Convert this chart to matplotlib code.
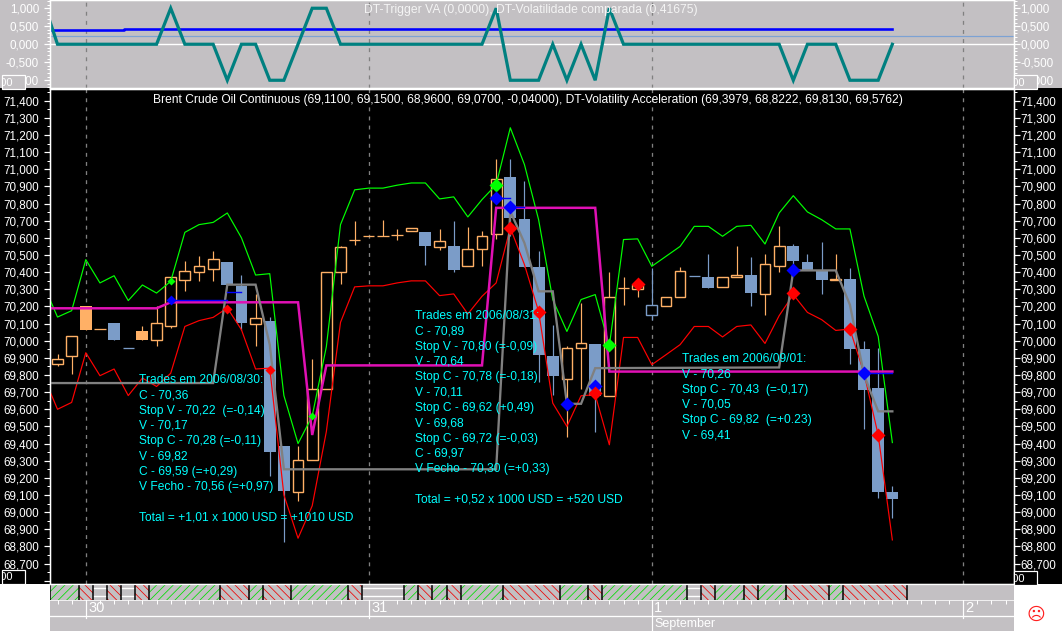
import matplotlib
matplotlib.use('Agg')
import matplotlib.pyplot as plt
from matplotlib.patches import Rectangle
from matplotlib.ticker import FuncFormatter, MultipleLocator

plt.rcParams['font.family'] = ['Liberation Sans', 'DejaVu Sans']
plt.rcParams['hatch.linewidth'] = 0.55

# Candles: box top, box bottom, high, low, kind
# u = hollow orange, f = filled orange, d = filled blue, o = hollow blue
box_top = [69.893, 70.027, 70.204, 70.068, 70.105, 69.957, 70.058, 70.103, 70.372, 70.407,
           70.436, 70.477, 70.461, 70.321, 70.134, 70.115, 69.387, 69.304, 69.718, 70.400,
           70.547, 70.590, 70.611, 70.611, 70.619, 70.658, 70.636, 70.582, 70.555, 70.535,
           70.611, 70.944, 70.952, 70.712, 70.427, 69.912, 69.957, 69.987, 69.982, 70.257,
           70.308, 70.323, 70.208, 70.255, 70.405, 70.378, 70.374, 70.372, 70.384, 70.385,
           70.448, 70.553, 70.555, 70.461, 70.410, 70.362, 70.362, 69.953, 69.726, 69.118]
box_bot = [69.864, 69.908, 70.060, 70.068, 70.002, 69.957, 70.002, 70.002, 70.083, 70.352,
           70.399, 70.416, 70.327, 70.105, 70.100, 69.348, 69.126, 69.120, 69.304, 69.718,
           70.400, 70.590, 70.611, 70.611, 70.619, 70.638, 70.550, 70.545, 70.415, 70.434,
           70.533, 70.620, 70.714, 70.428, 69.914, 69.796, 69.776, 69.955, 69.675, 69.675,
           70.308, 70.300, 70.148, 70.204, 70.255, 70.378, 70.305, 70.311, 70.370, 70.276,
           70.270, 70.434, 70.463, 70.415, 70.356, 70.354, 69.953, 69.714, 69.120, 69.078]
highs = [69.924, 70.027, 70.204, 70.068, 70.105, 69.957, 70.088, 70.200, 70.372, 70.467,
         70.492, 70.525, 70.461, 70.385, 70.274, 70.138, 69.387, 69.387, 69.895, 70.400,
         70.555, 70.700, 70.611, 70.706, 70.654, 70.658, 70.636, 70.654, 70.700, 70.665,
         70.640, 71.057, 71.062, 70.934, 70.525, 70.093, 69.970, 70.220, 69.982, 70.400,
         70.374, 70.323, 70.424, 70.255, 70.432, 70.378, 70.508, 70.372, 70.555, 70.490,
         70.508, 70.671, 70.565, 70.508, 70.578, 70.508, 70.426, 70.000, 69.960, 69.155]
lows = [69.850, 69.807, 70.060, 70.068, 70.002, 69.957, 70.002, 69.967, 70.077, 70.288,
        70.346, 70.346, 70.327, 70.060, 69.970, 69.212, 68.828, 69.066, 69.304, 69.718,
        70.333, 70.556, 70.611, 70.611, 70.585, 70.638, 70.444, 70.530, 70.400, 70.434,
        70.437, 70.595, 70.610, 70.428, 69.757, 69.685, 69.438, 69.718, 69.470, 69.675,
        70.210, 70.253, 70.120, 70.204, 70.255, 70.378, 70.305, 70.311, 70.370, 70.204,
        70.152, 70.400, 70.390, 70.415, 70.274, 70.354, 69.866, 69.486, 69.083, 68.968]
kinds = ['u', 'u', 'f', 'u', 'd', 'd', 'f', 'u', 'u', 'u',
         'u', 'u', 'd', 'd', 'u', 'd', 'd', 'u', 'u', 'u',
         'u', 'u', 'u', 'u', 'u', 'u', 'd', 'u', 'd', 'u',
         'u', 'u', 'd', 'd', 'd', 'd', 'u', 'u', 'd', 'u',
         'u', 'u', 'o', 'u', 'u', 'd', 'd', 'u', 'u', 'd',
         'u', 'u', 'd', 'd', 'd', 'u', 'd', 'd', 'd', 'd']

# Bands, index runs from -0.5 (left edge) to 59
band_x = [-0.53] + list(range(60))
upper = [70.240, 70.138, 70.175, 70.473, 70.337, 70.379, 70.234, 70.325, 70.278, 70.346, 70.632,
         70.677, 70.690, 70.745, 70.600, 70.383, 70.391, 69.680, 69.400, 69.560, 69.965,
         70.677, 70.880, 70.890, 70.890, 70.907, 70.920, 70.920, 70.827, 70.839, 70.722,
         70.823, 70.910, 71.242, 71.027, 70.706, 70.240, 70.054, 70.240, 70.269, 69.970,
         70.590, 70.594, 70.434, 70.492, 70.550, 70.667, 70.667, 70.609, 70.667, 70.673,
         70.564, 70.745, 70.846, 70.751, 70.706, 70.652, 70.652, 70.259, 70.025, 69.406]
lower = [69.704, 69.600, 69.640, 69.930, 69.796, 69.835, 69.680, 69.782, 69.733, 69.810, 70.083,
         70.117, 70.136, 70.191, 70.064, 69.835, 69.840, 69.100, 68.848, 69.037, 69.470,
         70.107, 70.314, 70.320, 70.320, 70.337, 70.349, 70.349, 70.263, 70.273, 70.156,
         70.259, 70.337, 70.658, 70.444, 70.171, 69.636, 69.500, 69.679, 69.685, 69.393,
         70.019, 70.019, 69.860, 69.918, 69.977, 70.083, 70.083, 70.022, 70.083, 70.092,
         69.984, 70.146, 70.269, 70.165, 70.123, 70.060, 70.068, 69.810, 69.450, 68.838]

magenta_x = [-0.53, 7, 8, 17, 18, 19, 30, 31, 38, 39, 59]
magenta_y = [70.189, 70.189, 70.224, 70.224, 69.450, 69.856, 69.856, 70.775, 70.775, 69.820, 69.820]
gray_x = [-0.53, 11, 12, 14, 15, 16, 31, 32, 33, 34, 35, 36, 37, 38, 51, 52, 55, 56, 57, 58, 59]
gray_y = [69.753, 69.753, 70.327, 70.327, 69.977, 69.250, 69.250, 70.755, 70.570, 70.288, 70.288,
          69.632, 69.632, 69.840, 69.844, 70.410, 70.410, 70.210, 69.800, 69.588, 69.588]

# Trade markers (index, price)
big_green = [(31, 70.910), (39, 69.977)]
big_blue = [(31, 70.830), (32, 70.780), (36, 69.632), (38, 69.737), (52, 70.410), (57, 69.813)]
big_red = [(32, 70.655), (34, 70.165), (38, 69.696), (41, 70.333), (52, 70.276), (56, 70.068), (58, 69.450)]
small_green = [(8, 70.346), (18, 69.560)]
small_blue = [(8, 70.238)]
small_red = [(12, 70.187), (15, 69.827)]
blue_segments = [(8, 12, 70.238), (12, 13, 70.286), (31, 32, 70.830), (32, 33, 70.780), (57, 59, 69.813)]

# Upper panel
trigger_x = [-0.53] + list(range(60))
trigger = [0.63, 0, 0, 0, 0, 0, 0, 0, 0, 1, 0,
           0, 0, -1, 0, 0, -1, -1, 0, 1, 1,
           0, 0, 0, 0, 0, 0, 0, 0, 0, 0,
           0, 1, -1, -1, -1, 0, -1, 0, -1, 1,
           0, 0, 0, 0, 0, 0, 0, 0, 0, 0,
           0, 0, -1, 0, 0, 0, -1, -1, -1, 0]
volat_x = [-0.53, 4.7, 4.7, 59]
volat_y = [0.400, 0.400, 0.428, 0.428]
light_level = 0.226

# Market strip: cell edges and g = green, r = red, w = empty
strip_edges = [-0.53, 1.5, 2.5, 3.5, 4.5, 5.5, 6.5, 11.5, 13.5, 14.5, 16.5, 20.5, 21.5, 24.5, 25.5,
               26.5, 27.5, 28.5, 31.5, 35.5, 37.5, 38.5, 44.5, 45.5, 46.5, 48.5, 49.5, 51.5, 54.5,
               55.5, 60]
strip_kinds = ['g', 'r', 'w', 'r', 'w', 'r', 'g', 'r', 'g', 'r', 'g', 'r', 'w', 'g', 'r',
               'g', 'r', 'g', 'r', 'g', 'r', 'g', 'w', 'r', 'g', 'r', 'g', 'r', 'g', 'r']

day_pos = [2, 22, 42, 64]
day_labels = ['30', '31', '1', '2']

title_main = ('Brent Crude Oil Continuous (69,1100, 69,1500, 68,9600, 69,0700, -0,04000), '
              'DT-Volatility Acceleration (69,3979, 68,8222, 69,8130, 69,5762)')
title_top = 'DT-Trigger VA (0,0000), DT-Volatilidade comparada (0,41675)'

notes_1 = ['Trades em 2006/08/30:', 'C - 70,36', 'Stop V - 70,22  (=-0,14)', 'V - 70,17',
           'Stop C - 70,28 (=-0,11)', 'V - 69,82', 'C - 69,59 (=+0,29)', 'V Fecho - 70,56 (=+0,97)',
           '', 'Total = +1,01 x 1000 USD = +1010 USD']
notes_2 = ['Trades em 2006/08/31:', 'C - 70,89', 'Stop V - 70,80 (=-0,09)', 'V - 70,64',
           'Stop C - 70,78 (=-0,18)', 'V - 70,11', 'Stop C - 69,62 (+0,49)', 'V - 69,68',
           'Stop C - 69,72 (=-0,03)', 'C - 69,97', 'V Fecho - 70,30 (=+0,33)', '',
           'Total = +0,52 x 1000 USD = +520 USD']
notes_3 = ['Trades em 2006/09/01:', 'V - 70,26', 'Stop C - 70,43  (=-0,17)', 'V - 70,05',
           'Stop C - 69,82  (=+0.23)', 'V - 69,41']

W, H = 1062, 631
GREY = '#c3c0c3'
ORANGE = '#ffb066'
STEEL = '#7b9cc8'
CYAN = '#00ffff'
PX = 0.72  # one pixel in points

# index -> pixel: x = 57.5 + 14.15 * i
XLIM = ((50 - 57.5) / 14.15, (1014 - 57.5) / 14.15)


def make_axes(fig, top, bottom, left=50, right=1014):
    return fig.add_axes([left / W, 1 - bottom / H, (right - left) / W, (bottom - top) / H])


def comma(v, pos=None):
    return f'{v:.3f}'.replace('.', ',')


def price_label(v, pos=None):
    # the lowest tick has no label, the small box sits there
    if v < 68.65:
        return ''
    return comma(v)


fig = plt.figure(figsize=(W / 100, H / 100), dpi=100, facecolor='white')
# backgrounds outside the axes
fig.add_artist(Rectangle((0, 1 - 88 / H), 1, 88 / H, transform=fig.transFigure, fc=GREY, ec='none', zorder=-5))
fig.add_artist(Rectangle((0, 1 - 584 / H), 1, (584 - 88) / H, transform=fig.transFigure, fc='black', ec='none', zorder=-5))

ax_top = make_axes(fig, 0, 88)
ax = make_axes(fig, 88.5, 584)
ax_strip = make_axes(fig, 584, 599.5)
ax_date = make_axes(fig, 599.5, 631)


def price_axis(a, low, high, major, minor, fmt):
    a.set_xlim(*XLIM)
    a.set_ylim(low, high)
    a.yaxis.set_major_locator(MultipleLocator(major))
    a.yaxis.set_minor_locator(MultipleLocator(minor))
    a.yaxis.set_major_formatter(FuncFormatter(fmt))
    a.set_xticks([])
    a.tick_params(axis='y', which='major', length=4.3, width=PX * 1.2, color='white', labelcolor='white',
                  labelsize=8.4, pad=3.6)
    a.tick_params(axis='y', which='minor', length=2.2, width=PX, color='white')
    for s in a.spines.values():
        s.set_color('white')
        s.set_linewidth(PX * 1.3)
    # the same scale on the right
    tw = a.twinx()
    tw.set_ylim(low, high)
    tw.yaxis.set_major_locator(MultipleLocator(major))
    tw.yaxis.set_minor_locator(MultipleLocator(minor))
    tw.yaxis.set_major_formatter(FuncFormatter(fmt))
    tw.tick_params(axis='y', which='major', length=4.3, width=PX * 1.2, color='white', labelcolor='white',
                   labelsize=8.4, pad=0.5)
    tw.tick_params(axis='y', which='minor', length=2.2, width=PX, color='white')
    for s in tw.spines.values():
        s.set_color('white')
        s.set_linewidth(PX * 1.3)


# Upper panel
ax_top.set_facecolor(GREY)
price_axis(ax_top, -1.215, 1.229, 0.5, 0.1, comma)
ax_top.axhline(0, color='white', lw=1.4 * PX, zorder=1)
ax_top.axhline(light_level, color='#7ca2d4', lw=1.2 * PX, zorder=1)
for d in day_pos:
    ax_top.axvline(d, color='#808080', lw=PX * 1.3, ls=(0, (3, 4)), zorder=1)
ax_top.plot(volat_x, volat_y, color='#0000ff', lw=2.6 * PX, zorder=2)
ax_top.plot(trigger_x, trigger, color='#008080', lw=3.2 * PX, zorder=3, solid_joinstyle='miter')
fig.text(364 / W, 1 - 10 / H, title_top, color='#f4f4f4', fontsize=8.75, va='center', ha='left')

# Main panel
ax.set_facecolor('black')
price_axis(ax, 68.581, 71.471, 0.1, 0.05, price_label)
for d in day_pos:
    ax.axvline(d, color='#808080', lw=PX * 1.3, ls=(0, (3, 4)), zorder=1)

# notes sit under the marks
for lines, px, first_y in ((notes_1, 139, 380), (notes_2, 415, 316), (notes_3, 682, 359)):
    for n, line in enumerate(lines):
        fig.text(px / W, 1 - (first_y + n * 15.33) / H, line, color=CYAN, fontsize=8.65, va='center', ha='left',
                 zorder=0.5)

for i in range(60):
    c = ORANGE if kinds[i] in 'uf' else STEEL
    ax.plot([i, i], [lows[i], highs[i]], color=c, lw=1.2 * PX, zorder=2, solid_capstyle='butt')
    if box_top[i] == box_bot[i]:
        ax.plot([i - 0.4, i + 0.4], [box_top[i], box_top[i]], color=c, lw=1.3 * PX, zorder=2, solid_capstyle='butt')
    elif kinds[i] in 'fd':
        ax.add_patch(Rectangle((i - 0.42, box_bot[i]), 0.84, box_top[i] - box_bot[i], fc=c, ec='none', zorder=2))
    else:
        # hollow body: the wick must not show inside
        ax.add_patch(Rectangle((i - 0.38, box_bot[i]), 0.76, box_top[i] - box_bot[i], fc='black', ec=c,
                               lw=1.4 * PX, zorder=2.1))

ax.plot(band_x, upper, color='#00ff00', lw=1.2 * PX, zorder=3)
ax.plot(band_x, lower, color='#ff0000', lw=1.2 * PX, zorder=3)
ax.plot(gray_x, gray_y, color='#808080', lw=2.3 * PX, zorder=3.2, solid_joinstyle='miter')
ax.plot(magenta_x, magenta_y, color='#e010b4', lw=2.5 * PX, zorder=3.1, solid_joinstyle='miter')
for a, b, v in blue_segments:
    ax.plot([a, b], [v, v], color='#0000ff', lw=1.4 * PX, zorder=3.3)

for pts, c, size in ((big_green, '#00ff00', 7.2), (big_blue, '#0000ff', 7.2), (big_red, '#ff0000', 7.2),
                     (small_green, '#00ff00', 3.8), (small_blue, '#0000ff', 4.6), (small_red, '#ff0000', 4.6)):
    ax.plot([p[0] for p in pts], [p[1] for p in pts], ls='none', marker='D', ms=size, mfc=c, mec='none', zorder=4)

fig.text(153 / W, 1 - 100 / H, title_main, color='white', fontsize=8.65, va='center', ha='left', zorder=6)

# Market strip
ax_strip.set_facecolor(GREY)
ax_strip.set_xlim(*XLIM)
ax_strip.set_ylim(0, 1)
ax_strip.set_xticks([])
ax_strip.set_yticks([])
for s in ax_strip.spines.values():
    s.set_visible(False)
for n, kind in enumerate(strip_kinds):
    x0, x1 = strip_edges[n], strip_edges[n + 1]
    if kind == 'w':
        ax_strip.plot([x0, x1], [0.75, 0.75], color='white', lw=1.4 * PX)
        ax_strip.plot([x0, x1], [0.25, 0.25], color='white', lw=1.4 * PX)
    else:
        hatch = '////' if kind == 'g' else '\\\\\\\\'
        edge = '#00dd00' if kind == 'g' else '#ee0000'
        ax_strip.add_patch(Rectangle((x0, 0), x1 - x0, 1, fc=GREY, ec=edge, hatch=hatch, lw=0))
for e in strip_edges:
    ax_strip.axvline(e, color='black', lw=1.5 * PX, zorder=3)

# Date scale
ax_date.set_facecolor(GREY)
ax_date.set_xlim(*XLIM)
ax_date.set_ylim(31.5, 0)
ax_date.set_yticks([])
ax_date.set_xticks(range(0, 68))
ax_date.set_xticklabels([])
ax_date.tick_params(axis='x', direction='in', top=True, bottom=False, length=3.2, width=PX, color='white')
for s in ax_date.spines.values():
    s.set_visible(False)
ax_date.axhline(0.2, color='white', lw=1.5 * PX)
ax_date.axhline(16.8, color='white', lw=1.3 * PX)
for d, lab in zip(day_pos, day_labels):
    ax_date.plot([d, d], [0, 31.5 if lab == '1' else 18], color='white', lw=1.2 * PX)
    ax_date.text(d + 0.16, 9, lab, color='white', fontsize=10.5, va='center', ha='left')
ax_date.text(42.15, 25, 'September', color='white', fontsize=9, va='center', ha='left')

# Small scale boxes, the label under them is cut off
for x0, y0 in ((2, 75), (2, 570), (1014, 75), (1014, 571)):
    face = GREY if y0 == 75 else 'black'
    fig.add_artist(Rectangle((x0 / W, 1 - (y0 + 13.5) / H), 23 / W, 13.5 / H, transform=fig.transFigure,
                             fc=face, ec='white', lw=PX * 1.2, zorder=8))
    t = fig.text((x0 + 11) / W, 1 - (y0 + 7.5) / H, '100', color='white', fontsize=8,
                 va='center', ha='right', zorder=9)
    t.set_clip_path(Rectangle((x0 / W, 1 - (y0 + 13.5) / H), 23 / W, 13.5 / H, transform=fig.transFigure))

# white corners and the face
fig.add_artist(Rectangle((0, 0), 50 / W, 47 / H, transform=fig.transFigure, fc='white', ec='none', zorder=7))
fig.add_artist(Rectangle((1014 / W, 0), 48 / W, 47 / H, transform=fig.transFigure, fc='white', ec='none', zorder=7))
fig.text(1035.5 / W, 1 - 615 / H, '\u2639', color='#ff2020', fontsize=13, family='DejaVu Sans',
         ha='center', va='center', zorder=9)

fig.savefig('out.png', dpi=100)
